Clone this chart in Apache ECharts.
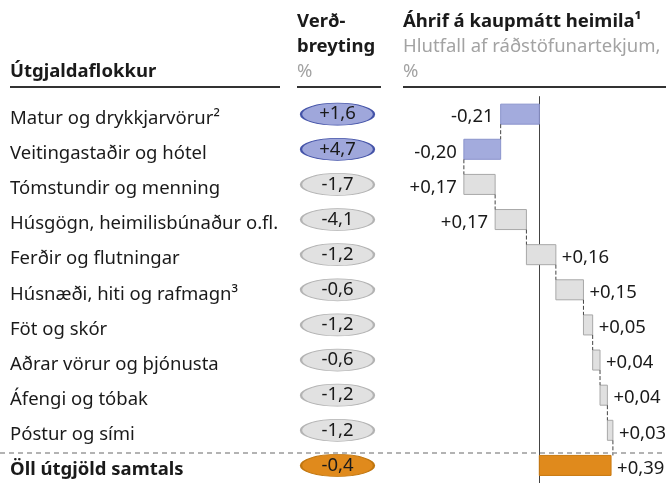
<!DOCTYPE html>
<html>
<head>
<meta charset="utf-8">
<script src="https://cdn.jsdelivr.net/npm/echarts@6/dist/echarts.min.js"></script>
<style>
  html, body { margin: 0; padding: 0; background: #fff; }
  #chart { width: 666px; height: 483px; }
</style>
</head>
<body>
<div id="chart"></div>
<script>
// flokkar útgjalda
const categories = [
  'Matur og drykkjarvörur²',
  'Veitingastaðir og hótel',
  'Tómstundir og menning',
  'Húsgögn, heimilisbúnaður o.fl.',
  'Ferðir og flutningar',
  'Húsnæði, hiti og rafmagn³',
  'Föt og skór',
  'Aðrar vörur og þjónusta',
  'Áfengi og tóbak',
  'Póstur og sími',
  'Öll útgjöld samtals'
];
// verðbreyting, %
const priceChange = [1.6, 4.7, -1.7, -4.1, -1.2, -0.6, -1.2, -0.6, -1.2, -1.2, -0.4];
// áhrif á kaupmátt, % af ráðstöfunartekjum
const impact = [-0.21, -0.20, 0.17, 0.17, 0.16, 0.15, 0.05, 0.04, 0.04, 0.03];
const totalImpact = 0.39;
const colorGroup = ['blue', 'blue', 'gray', 'gray', 'gray', 'gray', 'gray', 'gray', 'gray', 'gray', 'orange'];

const FONT = '"Noto Sans"';
const FS = 18.5;
const TXT = '#1a1a1a';
const GRAY_TXT = '#a3a3a3';

const ovalStyle = {
  blue:   { color: '#9fa7db', borderColor: '#4453a8' },
  gray:   { color: '#e1e1e1', borderColor: '#b3b3b3' },
  orange: { color: '#e08a1c', borderColor: '#c0760f' }
};
const barStyle = {
  blue:   { fill: '#a3abdd', stroke: '#8a93cc' },
  gray:   { fill: '#e0e0e0', stroke: '#a8a8a8' },
  orange: { fill: '#e08a1c', stroke: '#c9790f' }
};

function fmt(v, d) {
  return (v > 0 ? '+' : '') + v.toFixed(d).replace('.', ',');
}

// byggja fossagögn: [röð, byrjun, endir, gildi, x tengilínu]
const waterfall = [];
let cum = 0;
impact.forEach((v, i) => {
  const s = cum;
  cum = +(cum + v).toFixed(2);
  waterfall.push([i, s, cum, v, s]);
});
waterfall.push([categories.length - 1, 0, totalImpact, totalImpact, cum]);

const GRID_TOP = 96.6;
const GRID_H = 392.7;

const chart = echarts.init(document.getElementById('chart'));

const font = (bold) => (bold ? 'bold ' : '') + FS + 'px ' + FONT;

const option = {
  animation: false,
  backgroundColor: '#fff',
  textStyle: { fontFamily: FONT },
  grid: [
    { left: 301, width: 73, top: GRID_TOP, height: GRID_H },
    { left: 401.3, width: 248.4, top: GRID_TOP, height: GRID_H }
  ],
  xAxis: [
    { gridIndex: 0, type: 'value', min: 0, max: 1, show: false },
    { gridIndex: 1, type: 'value', min: -0.75, max: 0.6, show: false }
  ],
  yAxis: [
    {
      gridIndex: 0, type: 'category', data: categories, inverse: true,
      axisLine: { show: false }, axisTick: { show: false }, splitLine: { show: false },
      axisLabel: {
        margin: 291, align: 'left', fontSize: FS, color: TXT, fontFamily: FONT,
        padding: [9, 0, 0, 0],
        formatter: (v, i) => i === categories.length - 1 ? '{b|' + v + '}' : v,
        rich: { b: { fontWeight: 'bold', fontSize: FS, color: TXT, fontFamily: FONT } }
      }
    },
    {
      gridIndex: 1, type: 'category', data: categories, inverse: true,
      axisLine: { show: true, onZero: true, lineStyle: { color: '#444', width: 1 } },
      axisTick: { show: false }, axisLabel: { show: false }, splitLine: { show: false }
    }
  ],
  graphic: [
    { type: 'text', x: 10, y: 72, style: { text: 'Útgjaldaflokkur', font: font(true), fill: TXT, verticalAlign: 'middle' } },
    { type: 'text', x: 297, y: 22, style: { text: 'Verð-', font: font(true), fill: TXT, verticalAlign: 'middle' } },
    { type: 'text', x: 297, y: 47, style: { text: 'breyting', font: font(true), fill: TXT, verticalAlign: 'middle' } },
    { type: 'text', x: 297, y: 72, style: { text: '%', font: font(false), fill: GRAY_TXT, verticalAlign: 'middle' } },
    { type: 'text', x: 403, y: 22, style: { text: 'Áhrif á kaupmátt heimila¹', font: font(true), fill: TXT, verticalAlign: 'middle' } },
    { type: 'text', x: 403, y: 47, style: { text: 'Hlutfall af ráðstöfunartekjum,', font: font(false), fill: GRAY_TXT, verticalAlign: 'middle' } },
    { type: 'text', x: 403, y: 72, style: { text: '%', font: font(false), fill: GRAY_TXT, verticalAlign: 'middle' } },
    { type: 'line', shape: { x1: 10, y1: 87, x2: 280, y2: 87 }, style: { stroke: '#333', lineWidth: 2 } },
    { type: 'line', shape: { x1: 297, y1: 87, x2: 381, y2: 87 }, style: { stroke: '#333', lineWidth: 2 } },
    { type: 'line', shape: { x1: 403, y1: 87, x2: 666, y2: 87 }, style: { stroke: '#333', lineWidth: 2 } },
    { type: 'line', shape: { x1: 0, y1: 453, x2: 666, y2: 453 }, style: { stroke: '#9a9a9a', lineWidth: 1.5, lineDash: [5, 4] }, z: 10 }
  ],
  series: [
    {
      type: 'scatter',
      xAxisIndex: 0, yAxisIndex: 0,
      symbol: 'circle',
      symbolSize: [73, 22],
      silent: true,
      itemStyle: { opacity: 1 },
      data: priceChange.map((v, i) => ({
        value: [0.5, i],
        itemStyle: {
          opacity: 1,
          color: ovalStyle[colorGroup[i]].color,
          borderColor: ovalStyle[colorGroup[i]].borderColor,
          borderWidth: 1.3
        },
        label: {
          show: true, position: 'inside', formatter: fmt(v, 1),
          fontSize: FS, color: TXT, fontFamily: FONT, padding: [5, 0, 0, 0]
        }
      }))
    },
    {
      type: 'custom',
      xAxisIndex: 1, yAxisIndex: 1,
      silent: true,
      encode: { x: [1, 2], y: 0 },
      data: waterfall,
      renderItem: (params, api) => {
        const i = api.value(0);
        const s = api.value(1), e = api.value(2), v = api.value(3);
        const p0 = api.coord([s, i]);
        const p1 = api.coord([e, i]);
        const h = api.size([0, 1])[1] * 0.57;
        const x0 = Math.min(p0[0], p1[0]);
        const x1 = Math.max(p0[0], p1[0]);
        const st = barStyle[colorGroup[i]];
        const children = [{
          type: 'rect',
          shape: { x: x0, y: p0[1] - h / 2, width: x1 - x0, height: h },
          style: { fill: st.fill, stroke: st.stroke, lineWidth: 1 }
        }];
        if (i > 0) {
          const px = api.coord([api.value(4), i - 1]);
          children.push({
            type: 'line',
            shape: { x1: px[0], y1: px[1] + h / 2, x2: px[0], y2: p0[1] - h / 2 },
            style: { stroke: '#444', lineWidth: 1, lineDash: [4, 2] }
          });
        }
        const left = e <= 0;
        children.push({
          type: 'text',
          x: left ? x0 - 7 : x1 + 6,
          y: p0[1] + 3,
          style: {
            text: fmt(v, 2), font: font(false), fill: TXT,
            align: left ? 'right' : 'left', verticalAlign: 'middle'
          }
        });
        return { type: 'group', children: children };
      }
    }
  ]
};

chart.setOption(option);
window.addEventListener('resize', () => chart.resize());
</script>
</body>
</html>
